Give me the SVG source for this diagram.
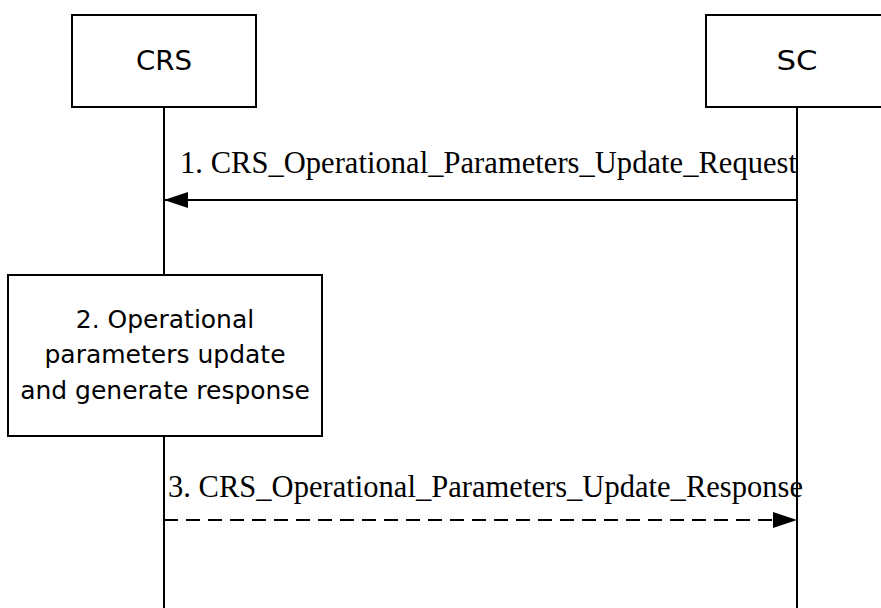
<svg xmlns="http://www.w3.org/2000/svg" width="881" height="608" viewBox="0 0 881 608">
<defs>
<style>
.box{fill:#fff;stroke:#000;stroke-width:2}
.life{stroke:#000;stroke-width:2;fill:none}
.msg{stroke:#000;stroke-width:2;fill:none}
.dash{stroke-dasharray:14 8}
.lbl{font-family:"DejaVu Sans","Liberation Sans",sans-serif;font-size:27px;fill:#000;text-anchor:middle}
.step{font-family:"DejaVu Sans","Liberation Sans",sans-serif;font-size:25px;fill:#000;text-anchor:middle}
.mtxt{font-family:"Liberation Serif","Times New Roman",serif;font-size:30.5px;fill:#000}
</style>
<marker id="ah" markerUnits="userSpaceOnUse" markerWidth="24" markerHeight="16" refX="24" refY="8" orient="auto">
<path d="M0,0 L24,8 L0,16 Z" fill="#000"/>
</marker>
</defs>
<g id="lifelines">
<line class="life" x1="164" y1="107" x2="164" y2="275"/>
<line class="life" x1="164" y1="436" x2="164" y2="608"/>
<line class="life" x1="797" y1="107" x2="797" y2="608"/>
</g>
<g id="CRS">
<rect class="box" x="72" y="15" width="184" height="92"/>
<text class="lbl" x="164" y="70" textLength="56" lengthAdjust="spacingAndGlyphs">CRS</text>
</g>
<g id="SC">
<rect class="box" x="706" y="15" width="184" height="92"/>
<text class="lbl" x="797" y="70" textLength="41" lengthAdjust="spacingAndGlyphs">SC</text>
</g>
<g id="step2">
<rect class="box" x="8" y="275" width="314" height="161"/>
<text class="step" x="165" y="328">2. Operational</text>
<text class="step" x="165" y="363">parameters update</text>
<text class="step" x="165" y="399">and generate response</text>
</g>
<g id="connectors">
<line class="msg" x1="797" y1="200" x2="164" y2="200" marker-end="url(#ah)"/>
<text class="mtxt" x="180" y="173" textLength="617">1. CRS_Operational_Parameters_Update_Request</text>
<line class="msg dash" x1="164" y1="520" x2="797" y2="520" marker-end="url(#ah)"/>
<text class="mtxt" x="168" y="497" textLength="635">3. CRS_Operational_Parameters_Update_Response</text>
</g>
</svg>
